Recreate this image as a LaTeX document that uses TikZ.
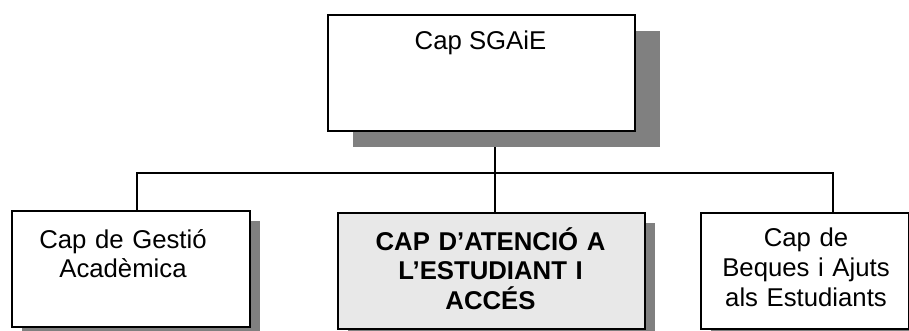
\documentclass[tikz,border=0pt]{standalone}
\usepackage{fontspec}
\setmainfont{Liberation Sans}
\usetikzlibrary{shadows,backgrounds}
\tikzset{
  caixa/.style={draw, line width=1.2pt, fill=white, minimum height=87pt, inner sep=0pt, anchor=north west},
  ombra/.style={drop shadow={shadow xshift=7.5pt, shadow yshift=-8pt, fill=black!50, opacity=1}},
  ombragran/.style={drop shadow={shadow xshift=19pt, shadow yshift=-12pt, fill=black!50, opacity=1}},
  rotul/.style={font=\fontsize{19.3pt}{22.2pt}\selectfont, align=center, inner sep=0pt, anchor=base},
  linia/.style={line width=0.8pt}
}
\begin{document}
\begin{tikzpicture}[x=0.75pt,y=-0.75pt]
  \useasboundingbox (0,0) rectangle (909,331);
  \clip (0,0) rectangle (909,331);
  % caixes
  \node[caixa, ombragran, minimum width=230.25pt] (sgaie) at (327,14) {};
  \node[caixa, ombra, minimum width=178.5pt] (gestio) at (11,210) {};
  \node[caixa, ombra, fill=black!9, minimum width=230.25pt] (atencio) at (337,212) {};
  \node[caixa, ombra, minimum width=156pt] (beques) at (700,212) {};
  % textos
  \node[rotul] (t-sgaie) at (480.5,50) {Cap SGAiE};
  \node[rotul, text width=170pt] (t-gestio) at (123,248) {Cap de Gestió\\Acadèmica};
  \node[rotul, text width=220pt, font={\fontsize{19.3pt}{22.2pt}\selectfont\bfseries}] (t-atencio) at (490.5,250) {CAP D’ATENCIÓ A\\L’ESTUDIANT I\\ACCÉS};
  \node[rotul, text width=150pt] (t-beques) at (806,247) {Cap de\\Beques i Ajuts\\als Estudiants};
  % línies de connexió
  \coordinate (nus) at (495,173);
  \coordinate (esq) at (137,173);
  \coordinate (dre) at (833,173);
  \begin{scope}[on background layer]
    \draw[linia] (sgaie.south -| nus) -- (atencio.north -| nus)
      (gestio.north -| esq) -- (esq) -- (dre) -- (beques.north -| dre);
  \end{scope}
\end{tikzpicture}
\end{document}
